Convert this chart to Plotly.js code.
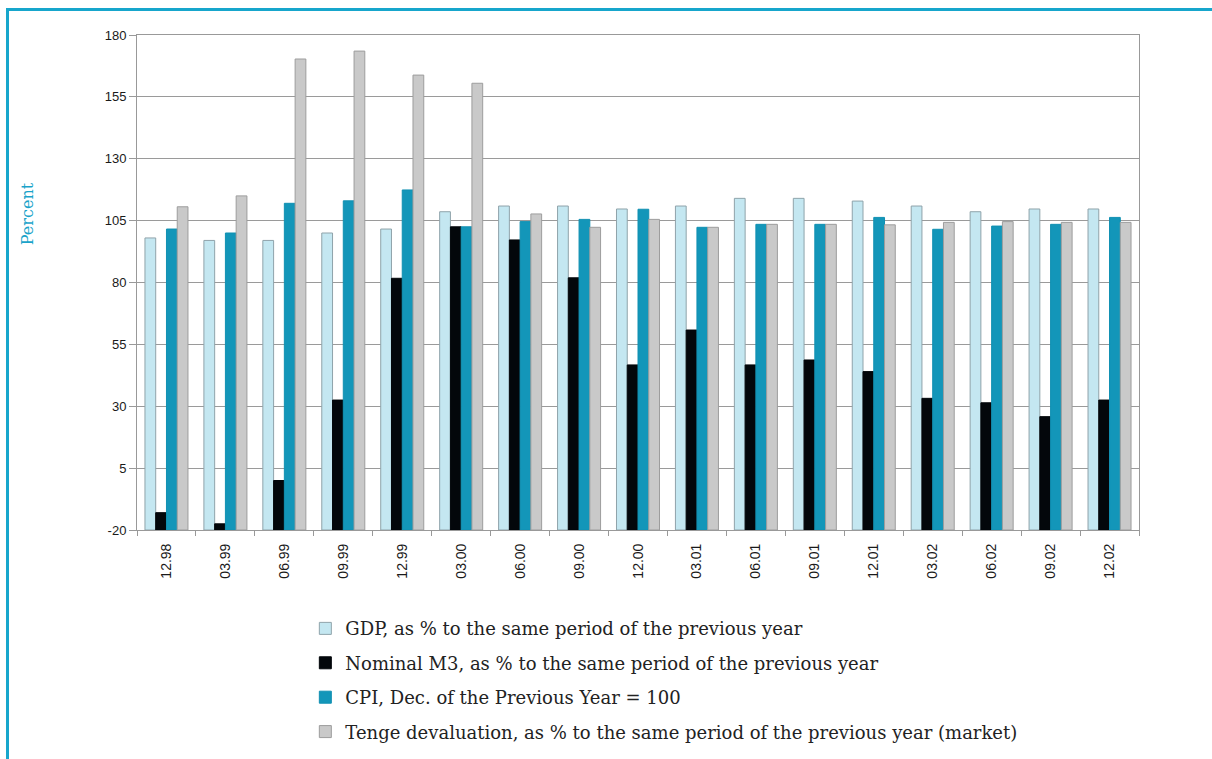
<!DOCTYPE html>
<html>
<head>
<meta charset="utf-8">
<script src="https://cdn.plot.ly/plotly-3.0.1.min.js"></script>
<style>
  html, body { margin: 0; padding: 0; background: #ffffff; }
  #wrap { position: relative; width: 1212px; height: 759px; overflow: hidden; }
  #chart { position: absolute; left: 0; top: 0; width: 1212px; height: 759px; }
  #frame { position: absolute; left: 6px; top: 8px; right: 0; bottom: 0;
           border-left: 3px solid #17a6cc; border-top: 3px solid #17a6cc; pointer-events: none; }
</style>
</head>
<body>
<div id="wrap">
  <div id="chart"></div>
  <div id="frame"></div>
</div>
<script>
// Periods (month.year)
const categories = ['12.98','03.99','06.99','09.99','12.99','03.00','06.00','09.00','12.00',
                    '03.01','06.01','09.01','12.01','03.02','06.02','09.02','12.02'];
// GDP, as % to the same period of the previous year
const gdp   = [98, 97, 97, 100, 101.6, 108.6, 110.9, 110.9, 109.7, 110.9, 114, 114, 112.9, 110.9, 108.6, 109.7, 109.7];
// Nominal M3, as % to the same period of the previous year
const m3    = [-13, -17.5, 0, 32.5, 81.7, 102.5, 97.2, 81.9, 46.7, 60.8, 46.7, 48.7, 44, 33.2, 31.4, 25.8, 32.5];
// CPI, Dec. of the Previous Year = 100
const cpi   = [101.6, 100, 112, 113, 117.4, 102.5, 104.6, 105.5, 109.6, 102.3, 103.5, 103.5, 106.3, 101.5, 102.8, 103.5, 106.3];
// Tenge devaluation, as % to the same period of the previous year (market)
const tenge = [110.6, 115, 170.3, 173.5, 163.8, 160.5, 107.7, 102.3, 105.5, 102.3, 103.5, 103.5, 103.3, 104.3, 104.6, 104.3, 104.3];

const seriesNames = [
  'GDP, as % to the same period of the previous year',
  'Nominal M3, as % to the same period of the previous year',
  'CPI, Dec. of the Previous Year = 100',
  'Tenge devaluation, as % to the same period of the previous year (market)'
];
const yTickVals = [-20, 5, 30, 55, 80, 105, 130, 155, 180];
const yTitle = 'Percent';

// Bars grow from the bottom of the value axis (as in the original chart)
const axisBase = yTickVals[0];
const fills = ['#c4e7f1', '#03070b', '#1396b9', '#c9c9c9'];
const edges = ['#8fa3aa', '#03070b', '#1190b2', '#9d9d9d'];
const series = [gdp, m3, cpi, tenge];

const traces = series.map((vals, i) => ({
  type: 'bar',
  name: seriesNames[i],
  x: categories,
  y: vals.map(v => v - axisBase),
  base: axisBase,
  legendgroup: 'g' + i,
  marker: { color: fills[i], line: { color: edges[i], width: 1 } },
  hoverinfo: 'skip'
}));

const layout = {
  width: 1212,
  height: 759,
  margin: { l: 137, r: 73, t: 35, b: 229, autoexpand: false },
  paper_bgcolor: '#ffffff',
  plot_bgcolor: '#ffffff',
  barmode: 'group',
  bargap: 0.27,
  bargroupgap: 0,
  showlegend: true,
  legend: {
    x: 0.168, xanchor: 'left',
    y: -0.162, yanchor: 'top',
    orientation: 'v',
    traceorder: 'grouped',
    tracegroupgap: 8,
    bgcolor: 'rgba(0,0,0,0)',
    font: { family: 'DejaVu Serif, serif', size: 18, color: '#222222' }
  },
  xaxis: {
    type: 'category',
    tickangle: -90,
    tickson: 'boundaries',
    ticks: 'outside',
    ticklen: 5,
    tickcolor: '#999999',
    ticklabelstandoff: 7,
    showline: true,
    linecolor: '#999999',
    linewidth: 1,
    mirror: true,
    showgrid: false,
    tickfont: { family: 'Liberation Sans, sans-serif', size: 14, color: '#1a1a1a' }
  },
  yaxis: {
    range: [-20, 180],
    tickmode: 'array',
    tickvals: yTickVals,
    ticktext: yTickVals.map(String),
    ticks: 'outside',
    ticklen: 7,
    tickcolor: '#999999',
    showline: true,
    linecolor: '#999999',
    linewidth: 1,
    mirror: true,
    showgrid: true,
    gridcolor: '#9a9a9a',
    gridwidth: 1,
    zeroline: false,
    tickfont: { family: 'Liberation Sans, sans-serif', size: 13, color: '#1a1a1a' },
    automargin: false
  },
  annotations: [{
    text: yTitle,
    xref: 'paper', yref: 'paper',
    x: -0.1098, y: 0.64,
    xanchor: 'center', yanchor: 'middle',
    textangle: -90,
    showarrow: false,
    font: { family: 'DejaVu Serif, serif', size: 16, color: '#1aa3c9' }
  }]
};

Plotly.newPlot('chart', traces, layout, { displayModeBar: false, staticPlot: true });
</script>
</body>
</html>
